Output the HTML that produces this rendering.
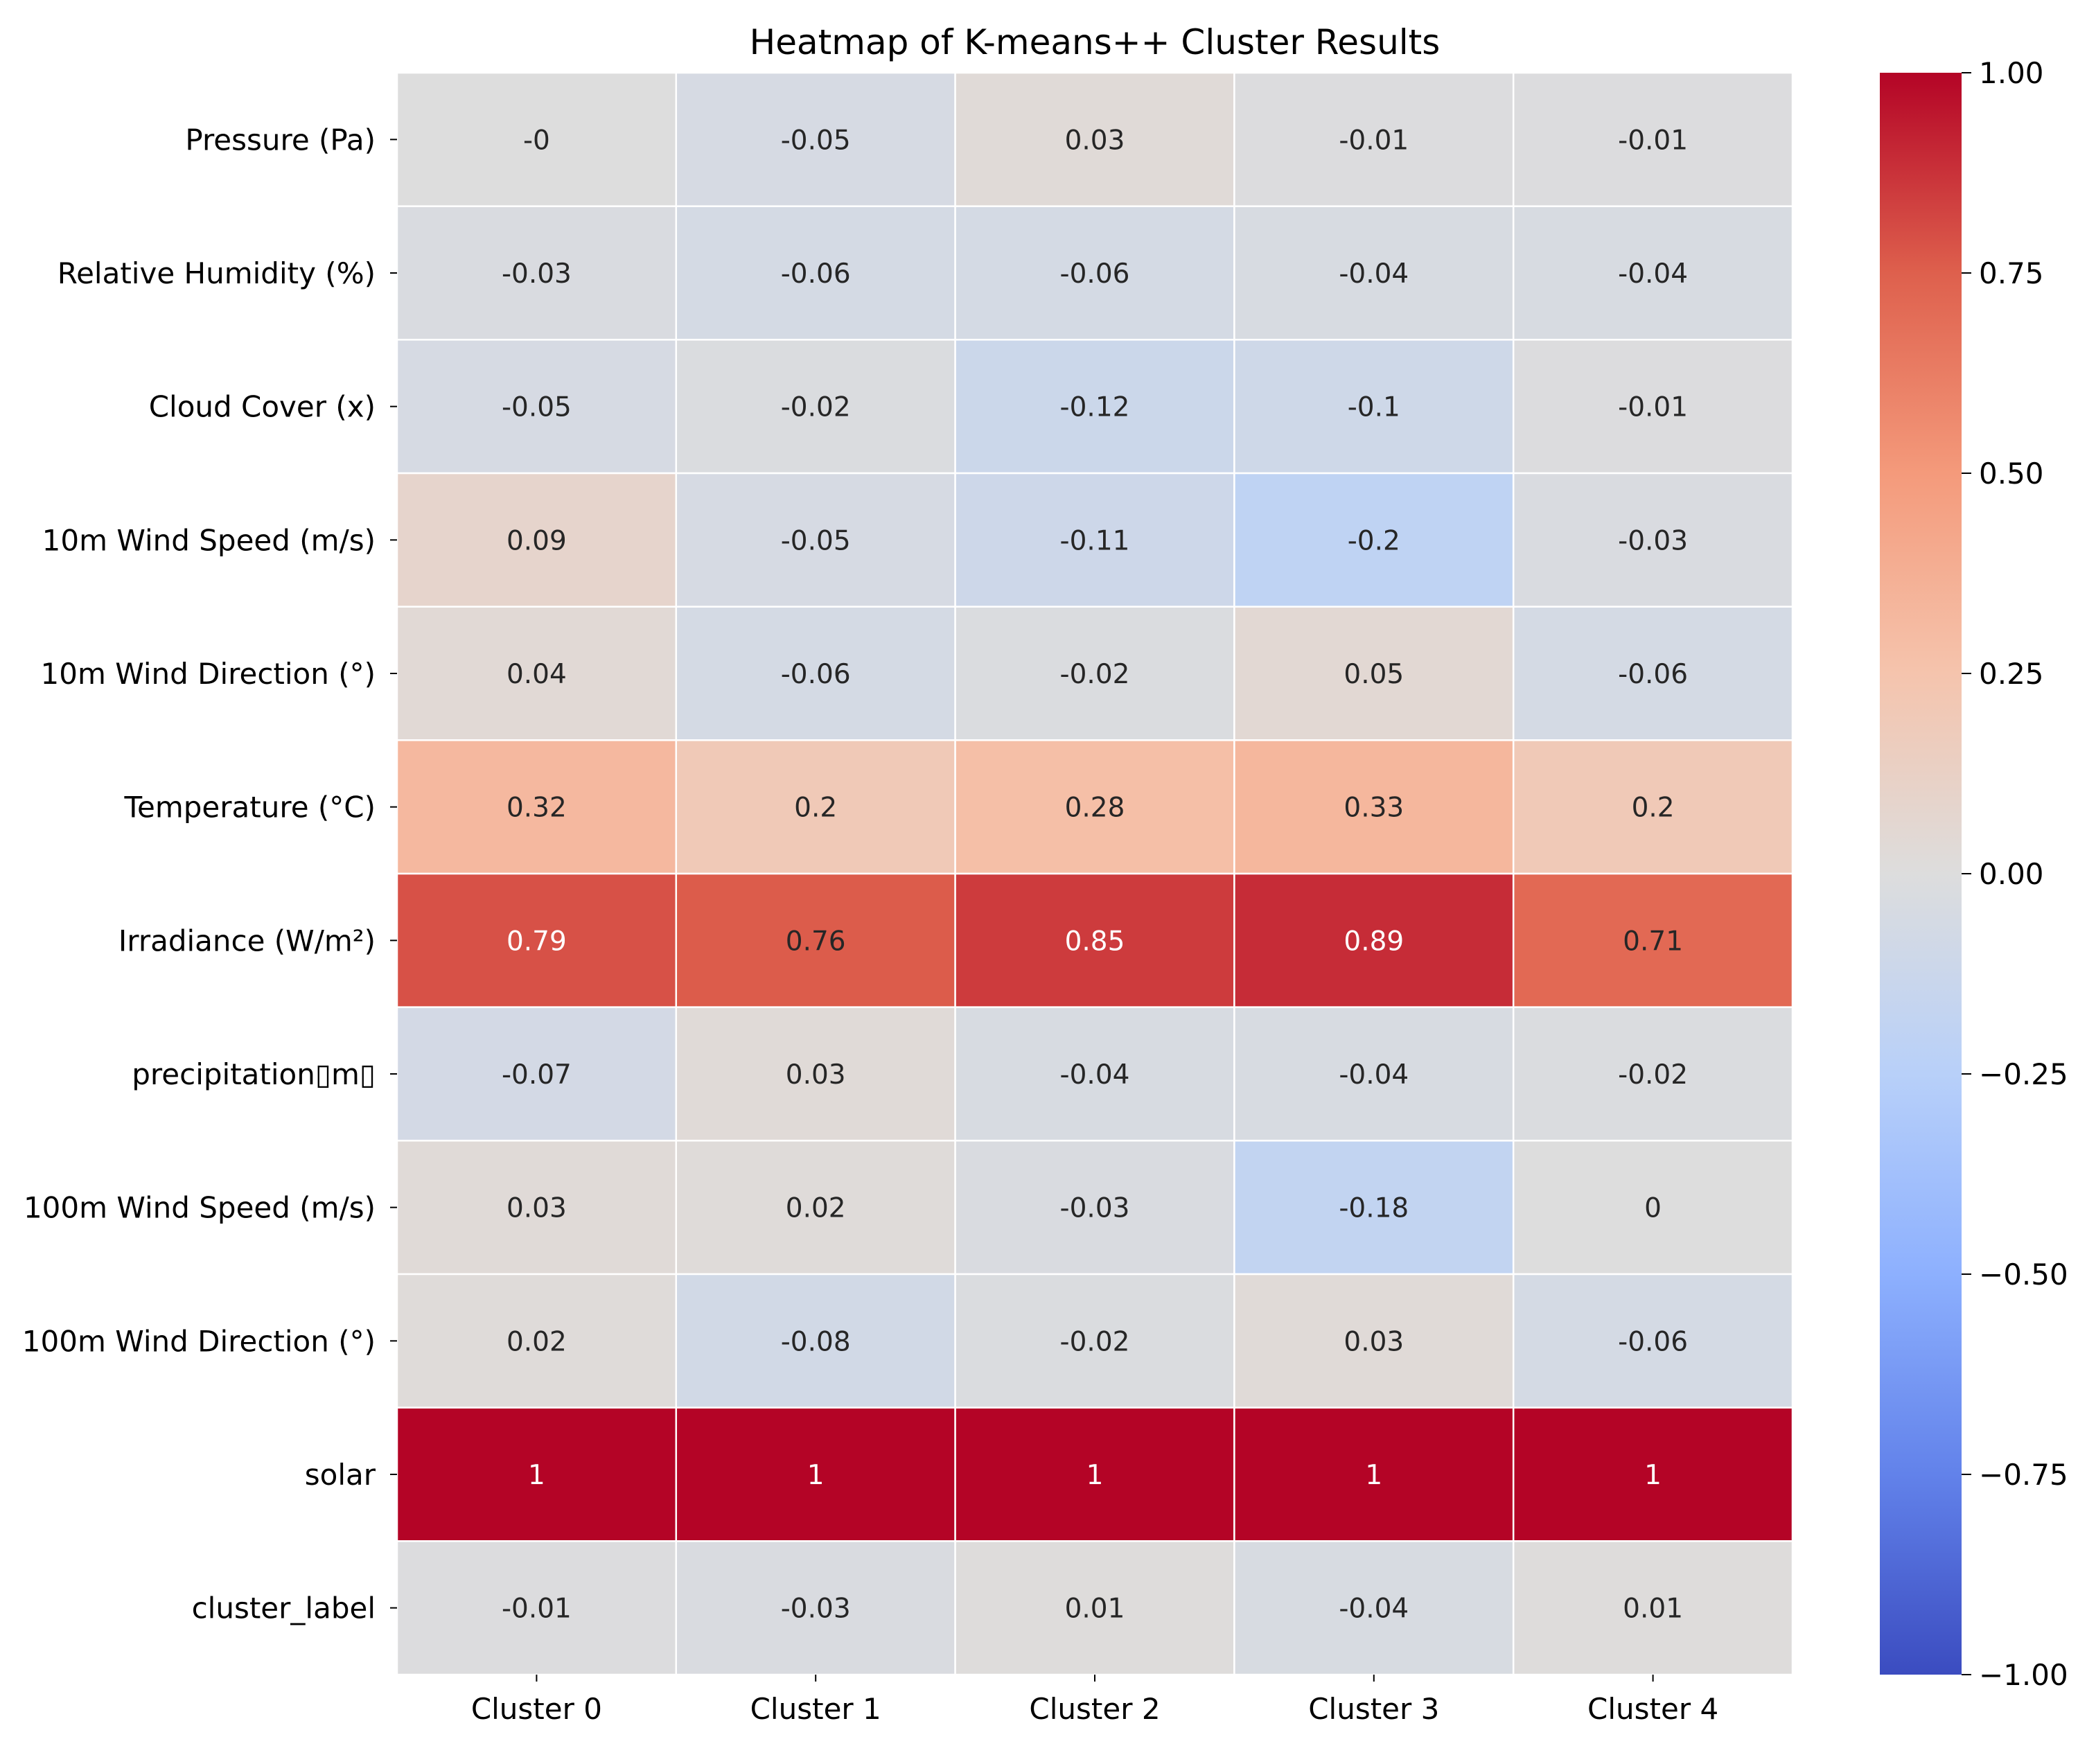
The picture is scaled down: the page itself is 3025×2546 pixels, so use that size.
<!DOCTYPE html>
<html><head><meta charset="utf-8"><style>
html,body{margin:0;padding:0;background:#fff;}
svg{display:block;}
text{font-family:"DejaVu Sans","Liberation Sans",sans-serif;}
</style></head><body>
<svg id="chart" width="3025" height="2546" viewBox="0 0 3025 2546" xmlns="http://www.w3.org/2000/svg">
<rect width="3025" height="2546" fill="#fff"/>
<text x="1580" y="78" font-size="50" text-anchor="middle" fill="#000">Heatmap of K-means++ Cluster Results</text>
<g id="cells"></g><g id="ylabels"></g><g id="xlabels"></g>
<defs><linearGradient id="cbgrad" x1="0" y1="1" x2="0" y2="0"></linearGradient></defs>
<rect x="2713" y="105" width="118" height="2312" fill="url(#cbgrad)"/>
<g id="cbticks"></g>
</svg>
<script>
const rowLabels=["Pressure (Pa)","Relative Humidity (%)","Cloud Cover (x)","10m Wind Speed (m/s)","10m Wind Direction (°)","Temperature (°C)","Irradiance (W/m²)","precipitation▯m▯","100m Wind Speed (m/s)","100m Wind Direction (°)","solar","cluster_label"];
const colLabels=["Cluster 0","Cluster 1","Cluster 2","Cluster 3","Cluster 4"];
const cluster0=[-0,-0.03,-0.05,0.09,0.04,0.32,0.79,-0.07,0.03,0.02,1,-0.01];
const cluster1=[-0.05,-0.06,-0.02,-0.05,-0.06,0.2,0.76,0.03,0.02,-0.08,1,-0.03];
const cluster2=[0.03,-0.06,-0.12,-0.11,-0.02,0.28,0.85,-0.04,-0.03,-0.02,1,0.01];
const cluster3=[-0.01,-0.04,-0.1,-0.2,0.05,0.33,0.89,-0.04,-0.18,0.03,1,-0.04];
const cluster4=[-0.01,-0.04,-0.01,-0.03,-0.06,0.2,0.71,-0.02,0,-0.06,1,0.01];
const cbTicks=[1,0.75,0.5,0.25,0,-0.25,-0.5,-0.75,-1];
const cbTickLabels=["1.00","0.75","0.50","0.25","0.00","−0.25","−0.50","−0.75","−1.00"];

const NS="http://www.w3.org/2000/svg";
const L=573,R=2587,T=105,B=2417;
const cols=[cluster0,cluster1,cluster2,cluster3,cluster4];
const cw=(R-L)/colLabels.length, rh=(B-T)/rowLabels.length;
const xPos=i=>L+i*cw, yPos=j=>T+j*rh;
const cbY=v=>B-(v+1)/2*(B-T);
const stops=[[59,76,192],[98,130,234],[141,176,254],[184,208,249],[221,221,221],[245,196,173],[244,154,123],[222,96,77],[180,4,38]];
function cmap(v){let t=Math.max(0,Math.min(1,(v+1)/2))*8;let i=Math.min(7,Math.floor(t));let f=t-i;const a=stops[i],b=stops[i+1];return [0,1,2].map(k=>Math.round(a[k]+(b[k]-a[k])*f));}
function mk(tag,attrs,parent){const e=document.createElementNS(NS,tag);for(const k in attrs)e.setAttribute(k,attrs[k]);parent.appendChild(e);return e;}
const gC=document.getElementById('cells');
cols.forEach((vals,i)=>{vals.forEach((v,j)=>{
  const c=cmap(v);
  const r=mk('rect',{x:xPos(i),y:yPos(j),width:cw,height:rh,fill:`rgb(${c})`,stroke:'#fff','stroke-width':2.5},gC);
  
  
  const lum=(0.2126*c[0]+0.7152*c[1]+0.0722*c[2])/255;
  const t=mk('text',{x:xPos(i)+cw/2,y:yPos(j)+rh/2+14,'font-size':39,'text-anchor':'middle',fill:lum<0.45?'#fff':'#262626'},gC);
  t.textContent=String(v===0&&i===0&&j===0?'-0':v);
  
  
});});
const gY=document.getElementById('ylabels');
rowLabels.forEach((s,j)=>{const y=yPos(j)+rh/2;
  mk('line',{x1:L-10,x2:L,y1:y,y2:y,stroke:'#000','stroke-width':2},gY);
  const t=mk('text',{x:L-31,y:y+15,'font-size':42,'text-anchor':'end',fill:'#000'},gY);t.textContent=s;
  
  
});
const gX=document.getElementById('xlabels');
colLabels.forEach((s,i)=>{const x=xPos(i)+cw/2;
  mk('line',{x1:x,x2:x,y1:B,y2:B+10,stroke:'#000','stroke-width':2},gX);
  const t=mk('text',{x:x,y:B+64,'font-size':42,'text-anchor':'middle',fill:'#000'},gX);t.textContent=s;
  
  
});
const grad=document.getElementById('cbgrad');
for(let k=0;k<=8;k++){mk('stop',{offset:(k/8*100)+'%','stop-color':`rgb(${stops[k]})`},grad);}
const gT=document.getElementById('cbticks');
cbTicks.forEach((v,k)=>{const y=cbY(v);
  mk('line',{x1:2831,x2:2845,y1:y,y2:y,stroke:'#000','stroke-width':2},gT);
  const t=mk('text',{x:2856,y:y+15,'font-size':42,fill:'#000'},gT);t.textContent=cbTickLabels[k];
  
  
});
</script>
</body></html>
